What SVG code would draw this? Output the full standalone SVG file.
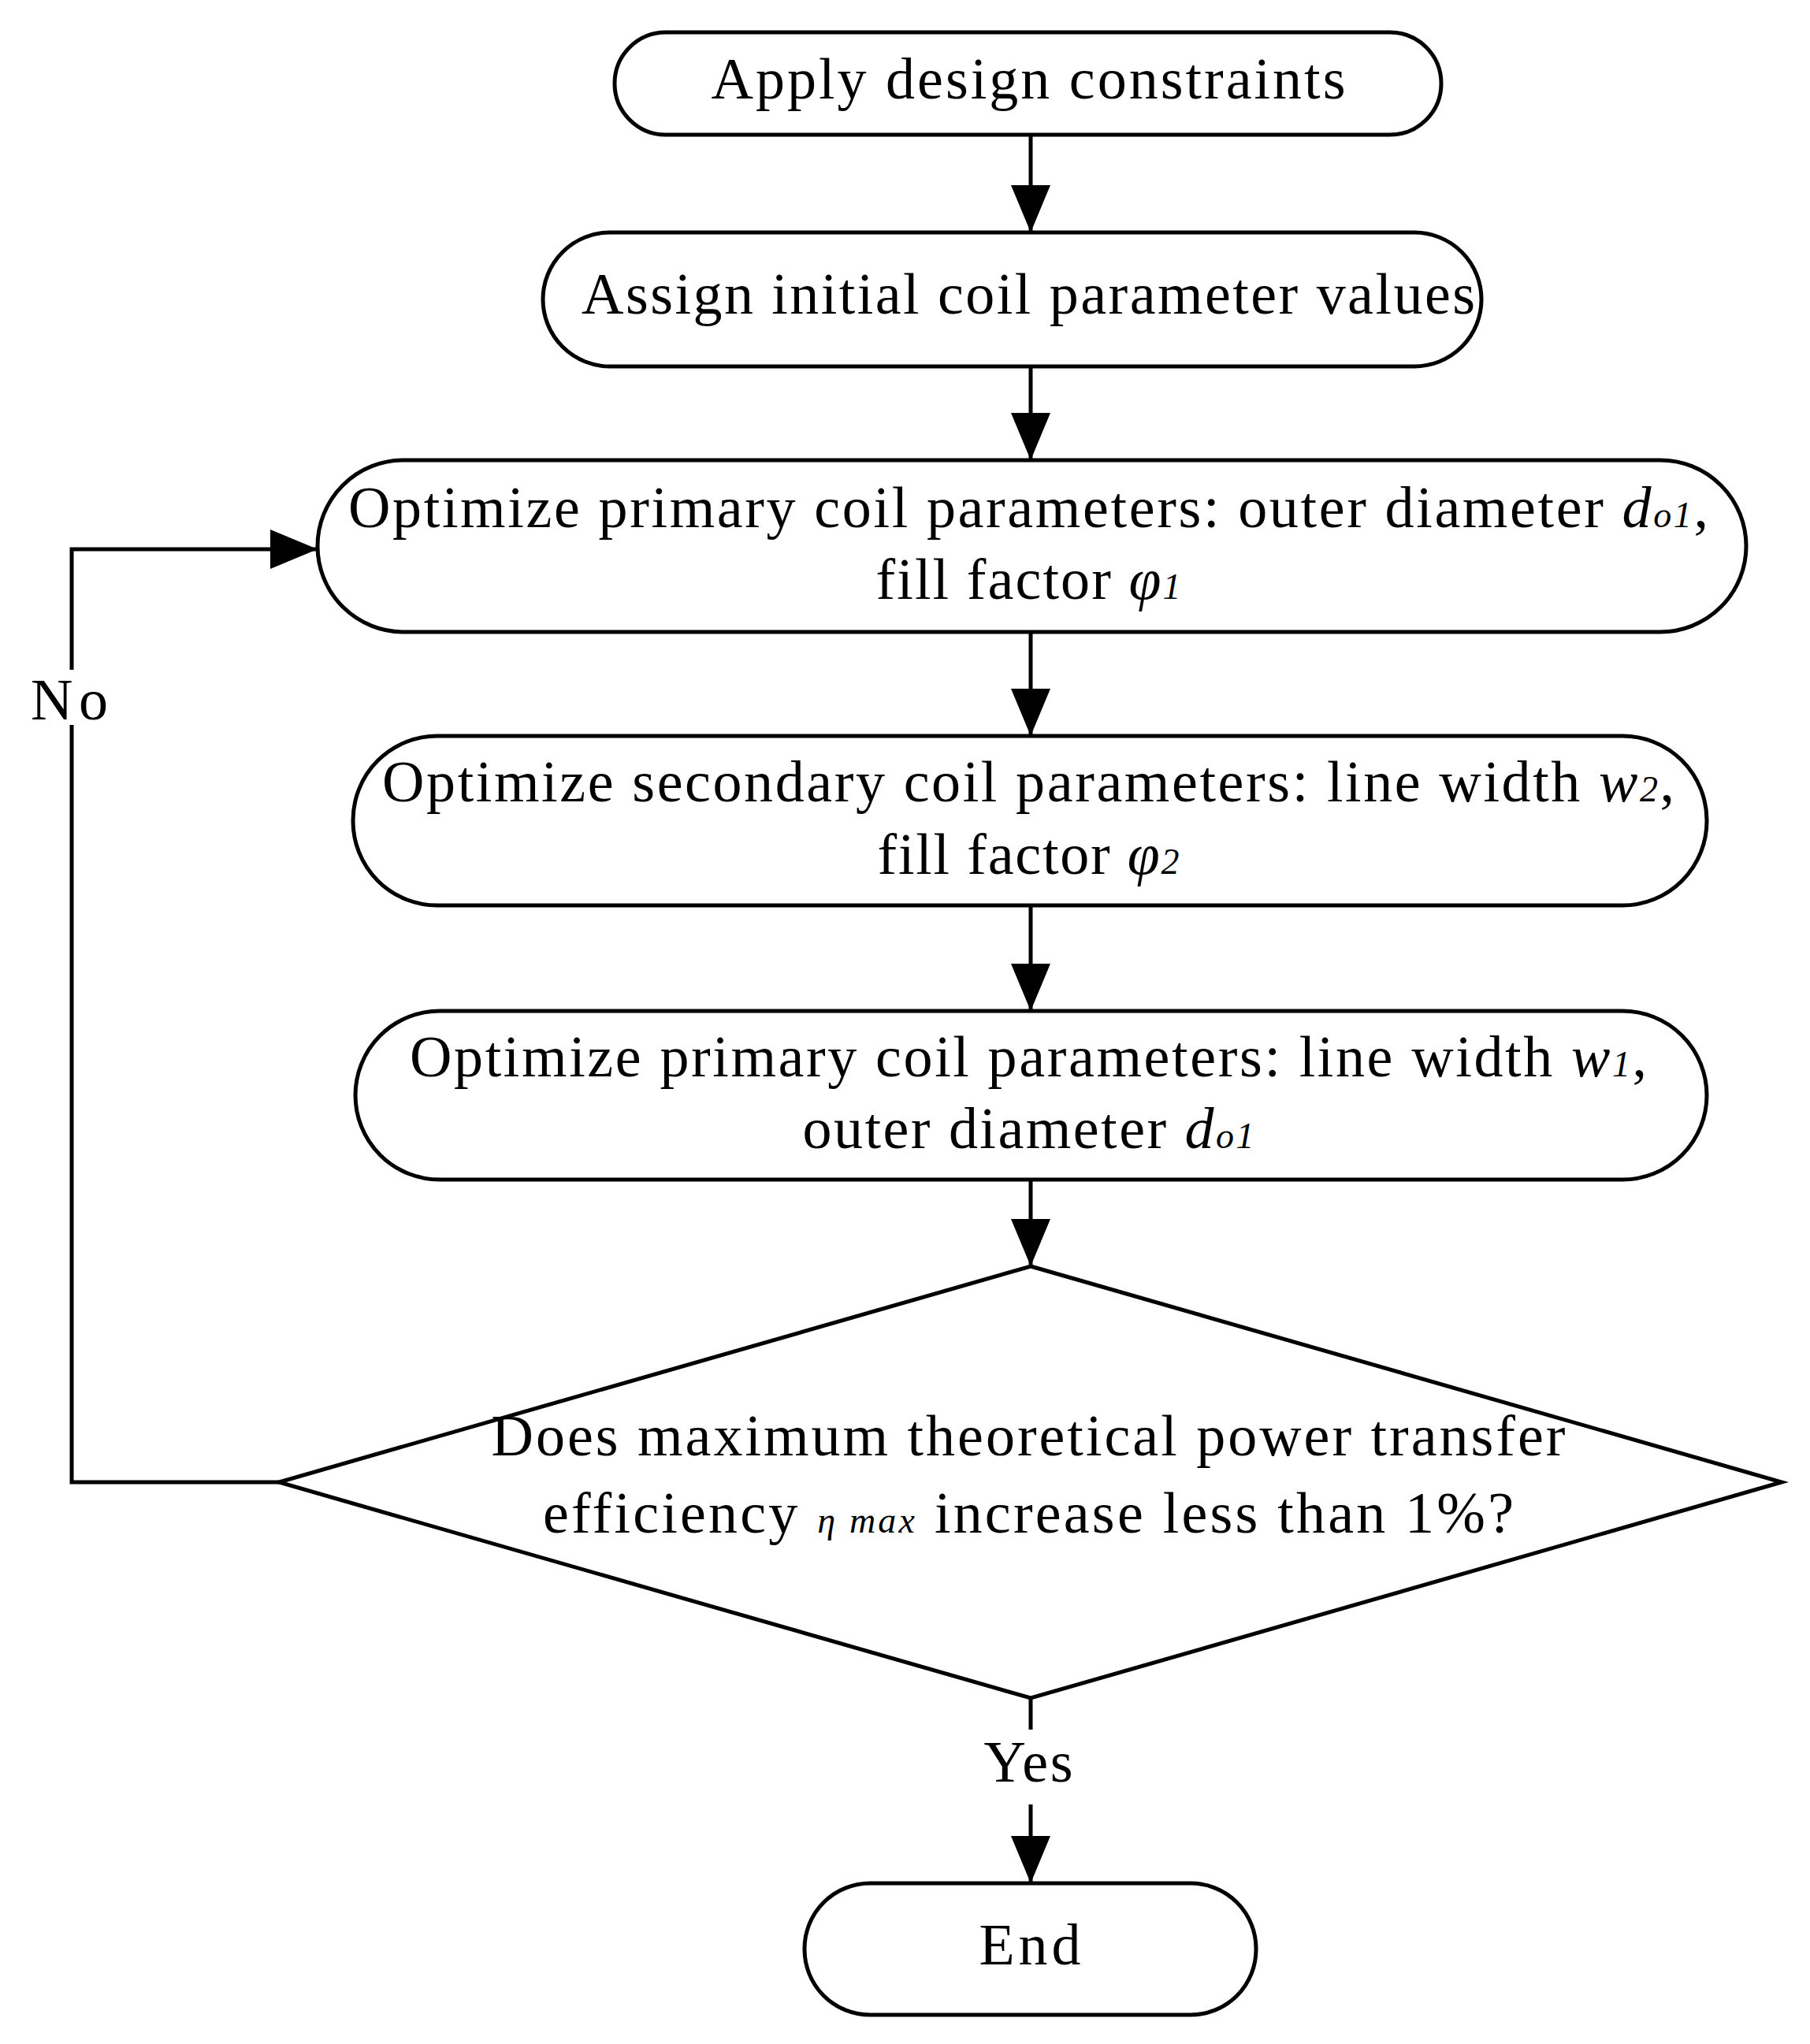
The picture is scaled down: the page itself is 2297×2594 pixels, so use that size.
<svg xmlns="http://www.w3.org/2000/svg" width="2297" height="2594" viewBox="0 0 2297 2594">
<style>
.n{fill:#fff;stroke:#000;stroke-width:5}
.c{fill:none;stroke:#000;stroke-width:5}
text{font-family:"Liberation Serif","DejaVu Serif",serif;font-size:74px;fill:#000;text-anchor:middle}
.i{font-style:italic}
.s{font-style:italic;font-size:46px}
</style>
<defs><marker id="a" markerWidth="60" markerHeight="50" refX="58" refY="25" orient="auto" markerUnits="userSpaceOnUse"><path d="M0,0L60,25L0,50z" fill="#000"/></marker></defs>
<rect width="2297" height="2594" fill="#fff"/>
<g id="connectors">
<line class="c" x1="1308" y1="171" x2="1308" y2="293" marker-end="url(#a)"/>
<line class="c" x1="1308" y1="465" x2="1308" y2="582" marker-end="url(#a)"/>
<line class="c" x1="1308" y1="802" x2="1308" y2="932" marker-end="url(#a)"/>
<line class="c" x1="1308" y1="1149" x2="1308" y2="1281" marker-end="url(#a)"/>
<line class="c" x1="1308" y1="1497" x2="1308" y2="1605" marker-end="url(#a)"/>
<line class="c" x1="1308" y1="2155" x2="1308" y2="2195"/>
<line class="c" x1="1308" y1="2290" x2="1308" y2="2388" marker-end="url(#a)"/>
<polyline class="c" points="354,1881 91,1881 91,697 401,697" marker-end="url(#a)"/>
<rect x="30" y="850" width="120" height="70" fill="#fff"/>
<text x="88" y="913" textLength="98">No</text>
<text x="1305" y="2261" textLength="113">Yes</text>
</g>
<g id="n1"><rect class="n" x="780" y="41" width="1049" height="130" rx="65"/><text x="1305" y="125" textLength="805">Apply design constraints</text></g>
<g id="n2"><rect class="n" x="689" y="295" width="1191" height="170" rx="85"/><text x="1305" y="398" textLength="1134">Assign initial coil parameter values</text></g>
<g id="n3"><rect class="n" x="403" y="584" width="1813" height="218" rx="109"/>
<text x="1305" y="669" textLength="1726">Optimize primary coil parameters: outer diameter <tspan class="i">d</tspan><tspan class="s">o1</tspan>,</text>
<text x="1305" y="760" textLength="387">fill factor <tspan class="i">φ</tspan><tspan class="s">1</tspan></text></g>
<g id="n4"><rect class="n" x="448" y="934" width="1718" height="215" rx="107"/>
<text x="1305" y="1017" textLength="1640">Optimize secondary coil parameters: line width <tspan class="i">w</tspan><tspan class="s">2</tspan>,</text>
<text x="1305" y="1109" textLength="383">fill factor <tspan class="i">φ</tspan><tspan class="s">2</tspan></text></g>
<g id="n5"><rect class="n" x="451" y="1283" width="1715" height="214" rx="107"/>
<text x="1305" y="1366" textLength="1570">Optimize primary coil parameters: line width <tspan class="i">w</tspan><tspan class="s">1</tspan>,</text>
<text x="1305" y="1457" textLength="573">outer diameter <tspan class="i">d</tspan><tspan class="s">o1</tspan></text></g>
<g id="d"><polygon class="n" points="1308,1607 2261,1881 1308,2155 354,1881"/>
<text x="1305" y="1847" textLength="1363">Does maximum theoretical power transfer</text>
<text x="1305" y="1945" textLength="1232">efficiency   <tspan class="s">η max</tspan>   increase less than 1%?</text></g>
<g id="end"><rect class="n" x="1021" y="2390" width="573" height="167" rx="83"/><text x="1307" y="2493" textLength="129">End</text></g>
</svg>
